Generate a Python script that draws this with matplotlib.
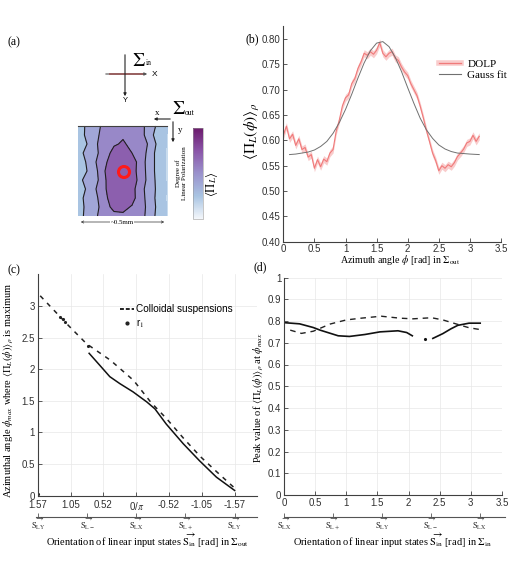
import numpy as np
import matplotlib
matplotlib.use('Agg')
import matplotlib.pyplot as plt
from matplotlib.colors import LinearSegmentedColormap
from matplotlib.lines import Line2D
from matplotlib.patches import Circle
from matplotlib.transforms import blended_transform_factory

W, H = 529, 568
plt.rcParams['font.family'] = 'Liberation Sans'
plt.rcParams['mathtext.fontset'] = 'stix'
SERIF = 'Liberation Serif'
AXC = '#404040'

# ---- (a) degree of linear polarization map (levels) ----
map_x = [78, 87, 96, 105, 114, 123, 132, 141, 150, 159, 168]
map_y = [126, 135, 144, 153, 162, 171, 180, 189, 198, 207, 216]
map_levels = [
    [1.2, 1.6, 2.2, 2.8, 3.2, 3.3, 3.2, 2.8, 2.0, 1.2, 0.6],
    [1.0, 1.7, 2.3, 2.9, 3.3, 3.4, 3.3, 2.9, 1.8, 1.0, 0.4],
    [1.3, 1.5, 2.4, 3.0, 3.4, 3.6, 3.3, 3.0, 2.3, 1.1, 0.4],
    [1.1, 1.8, 2.3, 3.1, 3.8, 3.9, 3.5, 3.0, 2.1, 0.9, 0.3],
    [0.9, 1.6, 2.5, 3.3, 4.2, 4.3, 3.9, 3.1, 1.8, 1.2, 0.3],
    [1.2, 1.5, 2.3, 3.5, 4.4, 4.4, 4.0, 2.9, 2.1, 0.9, 0.3],
    [1.3, 1.7, 2.2, 3.4, 4.3, 4.4, 4.0, 3.1, 2.0, 1.1, 0.3],
    [1.0, 1.6, 2.5, 3.4, 4.2, 4.2, 3.8, 2.9, 1.8, 1.3, 0.4],
    [1.1, 1.8, 2.3, 3.3, 4.0, 4.1, 3.9, 2.8, 2.1, 1.0, 0.3],
    [1.3, 1.6, 2.2, 3.1, 3.8, 3.8, 3.4, 3.0, 2.0, 1.2, 0.4],
    [1.2, 1.7, 2.4, 3.0, 3.2, 3.3, 3.1, 2.8, 2.1, 1.0, 0.4],
]

# ---- (b) DOLP vs azimuth ----
phi = [0.00, 0.05, 0.10, 0.15, 0.20, 0.25, 0.30, 0.35, 0.40, 0.45,
       0.50, 0.55, 0.60, 0.65, 0.70, 0.75, 0.80, 0.85, 0.90, 0.95,
       1.00, 1.05, 1.10, 1.15, 1.20, 1.25, 1.30, 1.35, 1.40, 1.45,
       1.50, 1.55, 1.60, 1.65, 1.70, 1.75, 1.80, 1.85, 1.90, 1.95,
       2.00, 2.05, 2.10, 2.15, 2.20, 2.25, 2.30, 2.35, 2.40, 2.45,
       2.50, 2.55, 2.60, 2.65, 2.70, 2.75, 2.80, 2.85, 2.90, 2.95,
       3.00, 3.05, 3.10, 3.15]
dolp = [0.610, 0.628, 0.603, 0.612, 0.590, 0.603, 0.582, 0.586, 0.567, 0.572,
        0.545, 0.562, 0.548, 0.563, 0.558, 0.575, 0.582, 0.618, 0.640, 0.668,
        0.684, 0.690, 0.712, 0.722, 0.742, 0.755, 0.772, 0.768, 0.775, 0.770,
        0.778, 0.793, 0.772, 0.765, 0.772, 0.775, 0.762, 0.758, 0.745, 0.735,
        0.728, 0.712, 0.700, 0.688, 0.668, 0.645, 0.620, 0.598, 0.575, 0.560,
        0.540, 0.550, 0.545, 0.552, 0.548, 0.556, 0.568, 0.575, 0.583, 0.595,
        0.598, 0.610, 0.598, 0.608]
dolp_err = 0.007
fit_phi = [0.1, 0.2, 0.3, 0.4, 0.5, 0.6, 0.7, 0.8, 0.9, 1.0, 1.1, 1.2, 1.3, 1.4,
           1.5, 1.6, 1.7, 1.8, 1.9, 2.0, 2.1, 2.2, 2.3, 2.4, 2.5, 2.6, 2.7, 2.8,
           2.9, 3.0, 3.15]
fit_val = [0.572, 0.573, 0.575, 0.577, 0.581, 0.588, 0.598, 0.614, 0.635, 0.661,
           0.691, 0.723, 0.753, 0.777, 0.792, 0.795, 0.785, 0.764, 0.736, 0.704,
           0.673, 0.644, 0.621, 0.604, 0.591, 0.583, 0.578, 0.575, 0.574, 0.573,
           0.572]

# ---- (c) phi_max vs input orientation ----
coll_x = [0.04, 0.49, 0.78, 1.16, 1.53, 1.80, 2.06, 2.33, 2.60, 2.86, 3.17]
coll_y = [3.16, 2.69, 2.40, 2.14, 1.82, 1.48, 1.21, 0.90, 0.61, 0.37, 0.09]
r1_x = [0.82, 0.99, 1.15, 1.31, 1.52, 1.74, 1.87, 2.05, 2.32, 2.58, 2.85, 3.14]
r1_y = [2.25, 2.06, 1.88, 1.77, 1.64, 1.48, 1.37, 1.13, 0.82, 0.55, 0.29, 0.08]
r1_dot_x = [0.00, 0.36, 0.40, 0.44, 0.80]
r1_dot_y = [0.03, 2.83, 2.79, 2.74, 2.36]
c_ticks = [0, np.pi / 6, np.pi / 3, np.pi / 2, 2 * np.pi / 3, 5 * np.pi / 6, np.pi]
c_ticklabels = ['1.57', '1.05', '0.52', r'0/$\pi$', '-0.52', '-1.05', '-1.57']

# ---- (d) peak value vs input orientation ----
d_sol1_x = [0.02, 0.25, 0.47, 0.58, 0.87, 1.05, 1.30, 1.54, 1.83, 1.97, 2.06]
d_sol1_y = [0.792, 0.787, 0.770, 0.758, 0.732, 0.729, 0.738, 0.750, 0.755, 0.747, 0.732]
d_sol2_x = [2.39, 2.55, 2.68, 2.79, 2.97, 3.15]
d_sol2_y = [0.720, 0.742, 0.764, 0.780, 0.790, 0.790]
d_dot = (2.27, 0.716)
d_dash_x = [0.10, 0.28, 0.47, 0.74, 1.00, 1.24, 1.56, 1.86, 2.07, 2.37, 2.55, 2.77, 2.97, 3.14]
d_dash_y = [0.758, 0.743, 0.753, 0.786, 0.805, 0.813, 0.822, 0.813, 0.810, 0.815, 0.805, 0.786, 0.769, 0.761]

vec_ticks = [0, np.pi / 4, np.pi / 2, 3 * np.pi / 4, np.pi]
vec_c = ['LY', 'L-', 'LX', 'L+', 'LY']
vec_d = ['LX', 'L+', 'LY', 'L-', 'LX']


def box(l, t, r, b):
    return [l / W, 1 - b / H, (r - l) / W, (b - t) / H]


def ftext(x, y, s, **kw):
    fig.text(x / W, 1 - y / H, s, **kw)


def style(ax):
    for s in ['top', 'right']:
        ax.spines[s].set_visible(False)
    for s in ['left', 'bottom']:
        ax.spines[s].set_color(AXC)
        ax.spines[s].set_linewidth(0.8)
    ax.tick_params(direction='in', length=3, width=0.6, color=AXC,
                   labelsize=7, labelcolor='#303030', pad=2)


def vector_axis(ax, names):
    ax.set_yticks([])
    for s in ['top', 'right', 'left']:
        ax.spines[s].set_visible(False)
    ax.spines['bottom'].set_color('#555555')
    ax.spines['bottom'].set_linewidth(0.8)
    ax.set_xticks(vec_ticks)
    ax.set_xticklabels([])
    ax.tick_params(axis='x', direction='in', length=3, width=0.6, color='#555555')
    tr = blended_transform_factory(ax.transData, fig.transFigure)
    for v, n in zip(vec_ticks, names):
        ax.text(v, 1 - 516.5 / H, r'$\overrightarrow{\mathrm{S}_{\mathrm{%s}}}$' % n,
                transform=tr, fontsize=6, ha='center', va='top', color='#303030')


fig = plt.figure(figsize=(W / 100, H / 100), dpi=100)

# ---------------- panel (a) ----------------
a0 = fig.add_axes([0, 0, 1, 1])
a0.set_xlim(0, W)
a0.set_ylim(H, 0)
a0.axis('off')
fill_cols = ['#c9dcee', '#a9c4e2', '#a1a6d7', '#9888c8', '#8c5fae']
a0.contourf(map_x, map_y, map_levels, levels=[0, 0.5, 1.5, 2.5, 3.5, 5], colors=fill_cols)
a0.contour(map_x, map_y, map_levels, levels=[1.5, 2.5, 3.5], colors='#202020', linewidths=0.8)
a0.plot([78, 167], [126, 126], color='#404040', lw=0.8)
a0.add_patch(Circle((124, 172), 5.5, fill=False, ec='#ff1a1a', lw=2.2))
a0.annotate('', xy=(78, 222), xytext=(167, 222),
            arrowprops=dict(arrowstyle='<->', lw=0.5, color='#333333', mutation_scale=4))
a0.text(122, 222, '~0.5mm', fontsize=5, ha='center', va='center', family=SERIF,
        bbox=dict(fc='white', ec='none', pad=0.5))

# input frame
a0.annotate('', xy=(150, 74), xytext=(103, 74),
            arrowprops=dict(arrowstyle='-|>', lw=0.8, color='#555555', mutation_scale=4))
a0.plot([110, 143], [74, 74], color='#f07070', lw=1.4)
a0.annotate('', xy=(125, 99), xytext=(125, 52),
            arrowprops=dict(arrowstyle='-|>', lw=0.8, color='#222222', mutation_scale=4))
a0.text(152, 74, 'X', fontsize=6, va='center')
a0.text(123, 101, 'Y', fontsize=5.5, va='center')
a0.text(132, 61, r'$\Sigma$', fontsize=14, va='center')
a0.text(146, 63, 'in', fontsize=5.5, va='center', family=SERIF)

# output frame
a0.annotate('', xy=(151, 119), xytext=(173, 119),
            arrowprops=dict(arrowstyle='-|>', lw=0.8, color='#222222', mutation_scale=4))
a0.annotate('', xy=(173, 145), xytext=(173, 119),
            arrowprops=dict(arrowstyle='-|>', lw=0.8, color='#222222', mutation_scale=4))
a0.text(155, 113, 'x', fontsize=6.5, va='center', family=SERIF)
a0.text(178, 130, 'y', fontsize=6.5, va='center', family=SERIF)
a0.text(172, 109, r'$\Sigma$', fontsize=14, va='center')
a0.text(185, 113, 'out', fontsize=5.5, va='center', family=SERIF)

# colour bar
cmap = LinearSegmentedColormap.from_list(
    'dolp', ['#f4f7fb', '#a9c4e2', '#9a92cc', '#8a55a8', '#6c1a6c'])
cax = fig.add_axes(box(193, 128, 203, 219))
cb = fig.colorbar(plt.cm.ScalarMappable(cmap=cmap), cax=cax)
cb.set_ticks([])
cb.outline.set_linewidth(0.4)
cb.outline.set_edgecolor('#999999')
a0.text(181, 173, 'Degree of\nLinear Polarization', rotation=90, fontsize=5,
        family=SERIF, ha='center', va='center', multialignment='center')
a0.text(211, 184, r'$\langle\Pi_L\rangle$', rotation=90, fontsize=9,
        ha='center', va='center')
ftext(8, 42, '(a)', fontsize=8.5, family=SERIF, va='center')

# ---------------- panel (b) ----------------
ab = fig.add_axes(box(283.3, 26.4, 501, 241.7))
style(ab)
ab.fill_between(phi, np.array(dolp) - dolp_err, np.array(dolp) + dolp_err,
                color='#f9cccc', lw=0)
ab.plot(phi, dolp, color='#f07a7a', lw=0.8)
ab.plot(fit_phi, fit_val, color='#707070', lw=0.7)
ab.set_xlim(0, 3.5)
ab.set_ylim(0.4, 0.825)
ab.set_xticks(np.arange(0, 3.51, 0.5))
ab.set_xticklabels(['0', '0.5', '1', '1.5', '2', '2.5', '3', '3.5'])
ab.set_yticks(np.arange(0.40, 0.801, 0.05))
ab.set_yticklabels(['%.2f' % v for v in np.arange(0.40, 0.801, 0.05)])
h_dolp = (Line2D([], [], color='#f9cccc', lw=4), Line2D([], [], color='#f07a7a', lw=0.9))
h_fit = Line2D([], [], color='#707070', lw=0.8)
ab.legend([h_dolp, h_fit], ['DOLP', 'Gauss fit'], loc='upper left',
          bbox_to_anchor=(433 / W, 1 - 54 / H), bbox_transform=fig.transFigure,
          frameon=False, prop={'family': SERIF, 'size': 8},
          handlelength=2.0, handletextpad=0.6, labelspacing=0.1, borderpad=0)
ftext(252, 131, r'$\langle\Pi_L(\phi)\rangle_\rho$', fontsize=11, rotation=90,
      ha='center', va='center')
ftext(400, 260, r'Azimuth angle $\phi$ [rad] in $\Sigma_{\mathrm{out}}$', fontsize=7.2,
      family=SERIF, ha='center', va='center')
ftext(245, 39, '(b)', fontsize=8.5, family=SERIF, va='center')

# ---------------- panel (c) ----------------
ac = fig.add_axes(box(37.7, 274.3, 257.2, 495.5))
style(ac)
ac.tick_params(axis='x', pad=3)
ac.grid(True, color='#e8e8e8', lw=0.5)
ac.set_axisbelow(True)
ac.plot(coll_x, coll_y, color='#222222', lw=1.1, ls=(0, (3, 3.5)))
ac.plot(r1_x, r1_y, color='#111111', lw=1.1)
ac.plot(r1_dot_x, r1_dot_y, ls='none', marker='.', ms=2.5, color='#222222')
ac.set_xlim(0, 3.5)
ac.set_ylim(0, 3.5)
ac.set_xticks(c_ticks)
ac.set_xticklabels(c_ticklabels)
ac.set_yticks([0, 0.5, 1, 1.5, 2, 2.5, 3])
ac.set_yticklabels(['0', '0.5', '1', '1.5', '2', '2.5', '3'])
h_coll = Line2D([], [], color='#222222', lw=1.4, ls=(0, (2, 1)))
h_r1 = Line2D([], [], ls='none', marker='.', ms=4, color='#222222')
ac.legend([h_coll, h_r1], ['Colloidal suspensions', r'r$_1$'], loc='upper left',
          bbox_to_anchor=(115 / W, 1 - 299 / H), bbox_transform=fig.transFigure,
          frameon=False, prop={'size': 7.2}, handlelength=1.4, handletextpad=0.2,
          labelspacing=0.3, borderpad=0)
ftext(8, 390, r'Azimuthal angle $\phi_{max}$ where $\langle\Pi_L(\phi)\rangle_\rho$ is maximum',
      fontsize=7.5, family=SERIF, rotation=90, ha='center', va='center')
ftext(8, 270, '(c)', fontsize=8.5, family=SERIF, va='center')

ac2 = fig.add_axes(box(36, 516, 257, 516.7))
ac2.set_xlim(-0.03, 3.5)
vector_axis(ac2, vec_c)
ftext(147, 541, r'Orientation of linear input states $\overrightarrow{\mathrm{S}_{\mathrm{in}}}$ [rad] in $\Sigma_{\mathrm{out}}$',
      fontsize=7.5, family=SERIF, ha='center', va='center')

# ---------------- panel (d) ----------------
ad = fig.add_axes(box(284, 277.5, 502, 495))
style(ad)
ad.grid(True, color='#e8e8e8', lw=0.5)
ad.set_axisbelow(True)
ad.plot(d_sol1_x, d_sol1_y, color='#111111', lw=1.2)
ad.plot(d_sol2_x, d_sol2_y, color='#111111', lw=1.2)
ad.plot([d_dot[0]], [d_dot[1]], marker='.', ms=2.5, color='#111111')
ad.plot(d_dash_x, d_dash_y, color='#222222', lw=1.0, ls=(0, (4, 3.5)))
ad.set_xlim(0, 3.5)
ad.set_ylim(0, 1)
ad.set_xticks(np.arange(0, 3.51, 0.5))
ad.set_xticklabels(['0', '0.5', '1', '1.5', '2', '2.5', '3', '3.5'])
ad.set_yticks(np.arange(0, 1.01, 0.1))
ad.set_yticklabels(['0', '0.1', '0.2', '0.3', '0.4', '0.5', '0.6', '0.7', '0.8', '0.9', '1'])
ftext(258, 398, r'Peak value of $\langle\Pi_L(\phi)\rangle_\rho$ at $\phi_{max}$',
      fontsize=7.5, family=SERIF, rotation=90, ha='center', va='center')
ftext(253, 267, '(d)', fontsize=8.5, family=SERIF, va='center')

ad2 = fig.add_axes(box(284, 516, 505, 516.7))
ad2.set_xlim(0, 3.5 * 221 / 218)
vector_axis(ad2, vec_d)
ftext(393, 541, r'Orientation of linear input states $\overrightarrow{\mathrm{S}_{\mathrm{in}}}$ [rad] in $\Sigma_{\mathrm{in}}$',
      fontsize=7.5, family=SERIF, ha='center', va='center')

fig.savefig('out.png', dpi=100)
